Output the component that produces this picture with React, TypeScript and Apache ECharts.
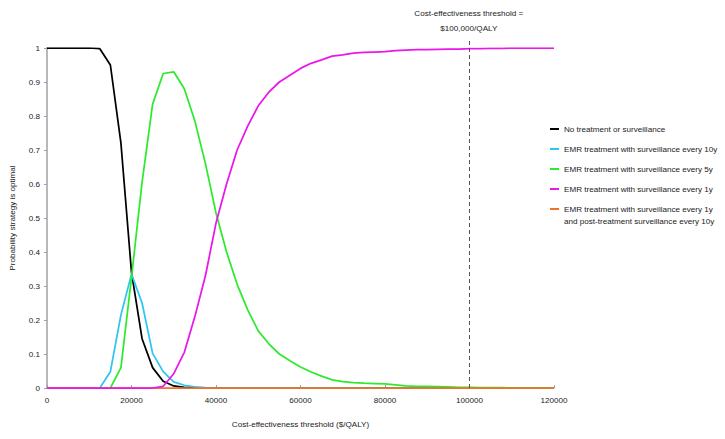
import React, { useEffect, useRef } from "react";
import * as echarts from "echarts";

const thresholds: number[] = [];
for (let i = 0; i <= 48; i++) thresholds.push(i * 2500);

const seriesNames = [
  "No treatment or surveillance",
  "EMR treatment with surveillance every 10y",
  "EMR treatment with surveillance every 5y",
  "EMR treatment with surveillance every 1y",
  "EMR treatment with surveillance every 1y and post-treatment surveillance every 10y",
];
const orangeFirstLine = "EMR treatment with surveillance every 1y";
const orangeSecondLine = "and post-treatment surveillance every 10y";

const noTreatment = [
  1, 1, 1, 1, 1, 0.998, 0.95, 0.72, 0.34, 0.145, 0.06, 0.02, 0.006, 0.002, 0.001, 0,
  0, 0, 0, 0, 0, 0, 0, 0, 0, 0, 0, 0, 0, 0, 0, 0, 0, 0, 0, 0, 0, 0, 0, 0, 0, 0, 0, 0, 0, 0, 0, 0, 0,
];
const every10y = [
  0, 0, 0, 0, 0, 0, 0.048, 0.215, 0.335, 0.25, 0.102, 0.048, 0.018, 0.008, 0.003, 0.001,
  0, 0, 0, 0, 0, 0, 0, 0, 0, 0, 0, 0, 0, 0, 0, 0, 0, 0, 0, 0, 0, 0, 0, 0, 0, 0, 0, 0, 0, 0, 0, 0, 0,
];
const every5y = [
  0, 0, 0, 0, 0, 0, 0, 0.06, 0.325, 0.605, 0.835, 0.925, 0.93, 0.88, 0.785, 0.66,
  0.515, 0.4, 0.305, 0.23, 0.168, 0.13, 0.1, 0.08, 0.062, 0.047, 0.035, 0.024, 0.019, 0.016,
  0.014, 0.013, 0.012, 0.009, 0.006, 0.005, 0.005, 0.004, 0.003, 0.002, 0.002, 0.001, 0.001,
  0.001, 0, 0, 0, 0, 0,
];
const every1y = [
  0, 0, 0, 0, 0, 0, 0, 0, 0, 0, 0, 0.005, 0.042, 0.105, 0.21, 0.33,
  0.485, 0.6, 0.7, 0.77, 0.83, 0.87, 0.9, 0.92, 0.94, 0.955, 0.965, 0.976, 0.98, 0.985,
  0.987, 0.988, 0.989, 0.992, 0.994, 0.995, 0.995, 0.996, 0.997, 0.997, 0.998, 0.998, 0.999,
  0.999, 1, 1, 1, 1, 1,
];
const every1yPost = thresholds.map(() => 0);

const xTicks = { min: 0, max: 120000, interval: 20000 };
const yTicks = { min: 0, max: 1, interval: 0.1 };
const thresholdValue = 100000;
const thresholdLabel = "Cost-effectiveness threshold =\n$100,000/QALY";

const colors = ["#000000", "#2ec6f0", "#2eea2e", "#ea16ea", "#f0722a"];
const FONT = "Liberation Sans, Arial, sans-serif";
const TXT = "#1a1a1a";
const FS = 8.1;

export default function App() {
  const ref = useRef<HTMLDivElement>(null);
  useEffect(() => {
    if (!ref.current) return;
    const chart = echarts.init(ref.current, undefined, { renderer: "svg" });
    const pair = (arr: number[]) => thresholds.map((x, i) => [x, arr[i]]);
    const mk = (idx: number, arr: number[], extra: any = {}) => ({
      name: seriesNames[idx],
      type: "line",
      data: pair(arr),
      showSymbol: false,
      symbol: "none",
      lineStyle: { color: colors[idx], width: 1.75 },
      itemStyle: { color: colors[idx] },
      silent: true,
      ...extra,
    });
    chart.setOption({
      animation: false,
      backgroundColor: "#ffffff",
      textStyle: { fontFamily: FONT },
      grid: [
        { left: 43, right: 171, top: 48, bottom: 51, containLabel: false },
        { left: 43, right: 171, top: 39, bottom: 51, containLabel: false },
      ],
      legend: {
        orient: "vertical",
        left: 550,
        top: 124,
        padding: 0,
        icon: "rect",
        itemWidth: 9,
        itemHeight: 2,
        itemGap: 10,
        selectedMode: false,
        data: seriesNames,
        textStyle: { fontSize: FS, color: TXT, lineHeight: 10, fontFamily: FONT },
        formatter: (name: string) => (name === seriesNames[4] ? orangeFirstLine : name),
      },
      graphic: [
        {
          type: "text",
          left: 564,
          top: 217,
          style: { text: orangeSecondLine, font: `${FS}px ${FONT}`, fill: TXT },
        },
      ],
      xAxis: [
        {
          type: "value",
          gridIndex: 0,
          ...xTicks,
          name: "Cost-effectiveness threshold ($/QALY)",
          nameLocation: "middle",
          nameGap: 32,
          nameTextStyle: { fontSize: FS, color: TXT },
          axisLine: { lineStyle: { color: "#a0a0a0", width: 1 } },
          axisTick: { show: true, inside: true, length: 3, lineStyle: { color: "#a0a0a0" } },
          axisLabel: { fontSize: FS, color: TXT, margin: 8, formatter: (v: number) => String(v) },
          splitLine: { show: false },
        },
        {
          type: "value",
          gridIndex: 1,
          ...xTicks,
          show: false,
        },
      ],
      yAxis: [
        {
          type: "value",
          gridIndex: 0,
          ...yTicks,
          name: "Probability strategy is optimal",
          nameLocation: "middle",
          nameGap: 31,
          nameTextStyle: { fontSize: FS, color: TXT },
          axisLine: { show: true, lineStyle: { color: "#a0a0a0", width: 1.5 } },
          axisTick: { show: true, inside: false, length: 3, lineStyle: { color: "#a0a0a0" } },
          axisLabel: { fontSize: FS, color: TXT, margin: 7 },
          splitLine: { show: false },
        },
        {
          type: "value",
          gridIndex: 1,
          min: 0,
          max: 1,
          show: false,
        },
      ],
      series: [
        mk(0, noTreatment),
        mk(1, every10y),
        mk(2, every5y),
        mk(4, every1yPost),
        mk(3, every1y),
        {
          name: "threshold",
          type: "line",
          xAxisIndex: 1,
          yAxisIndex: 1,
          data: [[thresholdValue, 0]],
          symbol: "none",
          showSymbol: false,
          lineStyle: { opacity: 0 },
          silent: true,
          markLine: {
            silent: true,
            symbol: ["none", "none"],
            lineStyle: { color: "#555555", type: [4, 3], width: 1 },
            label: {
              show: true,
              position: "end",
              formatter: thresholdLabel,
              fontSize: FS,
              lineHeight: 15,
              color: TXT,
              distance: 3,
            },
            data: [[{ coord: [thresholdValue, 0] }, { coord: [thresholdValue, 1] }]],
          },
        },
      ],
    });
    return () => chart.dispose();
  }, []);
  return (
    <div
      ref={ref}
      style={{ position: "fixed", left: 0, top: 0, width: 725, height: 439, background: "#fff" }}
    />
  );
}
